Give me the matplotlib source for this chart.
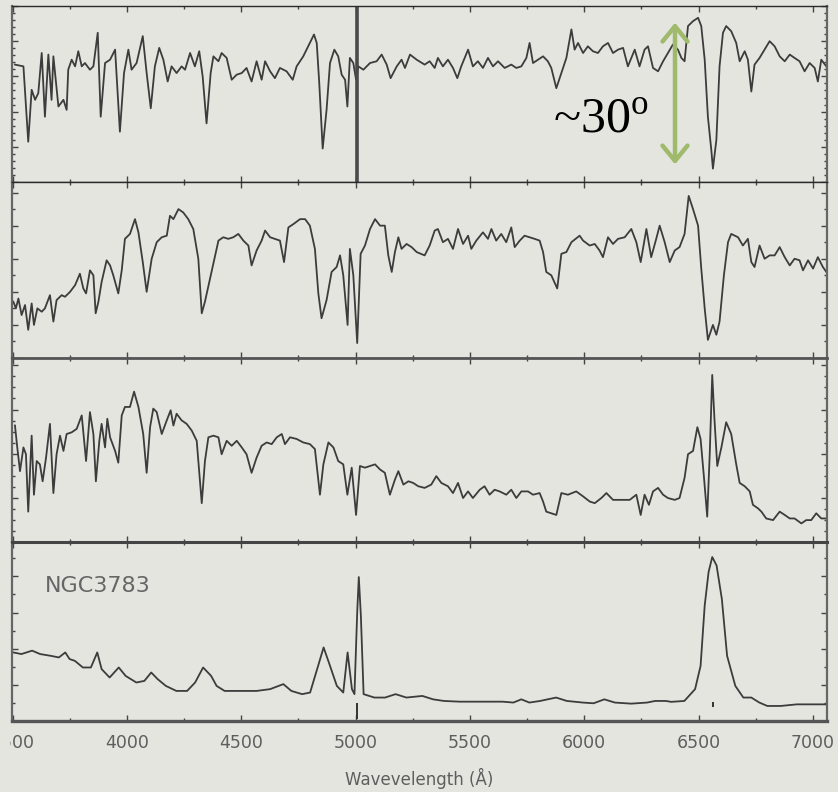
import matplotlib
matplotlib.use("Agg")
import matplotlib.pyplot as plt
from matplotlib.patches import Rectangle
from matplotlib.ticker import MultipleLocator

# spectra; flux in percent of the panel height
wl1 = [3510, 3547, 3568, 3583, 3598, 3612, 3627, 3641, 3656, 3670, 3678, 3700, 3722, 3736, 3743,
       3758, 3773, 3787, 3802, 3816, 3838, 3853, 3872, 3885, 3904, 3926, 3948, 3969, 3987, 4006,
       4020, 4042, 4069, 4086, 4104, 4122, 4141, 4159, 4178, 4195, 4217, 4239, 4254, 4276, 4297,
       4316, 4331, 4348, 4366, 4378, 4400, 4414, 4436, 4458, 4480, 4502, 4523, 4545, 4567, 4589,
       4604, 4626, 4647, 4669, 4698, 4725, 4742, 4771, 4800, 4818, 4830, 4841, 4856, 4873, 4888,
       4907, 4924, 4939, 4954, 4964, 4975, 4990, 5002, 5012, 5034, 5063, 5092, 5114, 5136, 5153,
       5180, 5201, 5216, 5238, 5267, 5302, 5324, 5346, 5360, 5382, 5404, 5426, 5445, 5462, 5492,
       5513, 5535, 5557, 5579, 5601, 5623, 5652, 5681, 5703, 5725, 5747, 5761, 5776, 5798, 5820,
       5841, 5856, 5878, 5900, 5922, 5944, 5958, 5973, 5995, 6016, 6038, 6060, 6082, 6104, 6126,
       6148, 6170, 6191, 6206, 6221, 6242, 6264, 6279, 6301, 6323, 6345, 6366, 6388, 6410, 6425,
       6439, 6454, 6476, 6498, 6512, 6527, 6541, 6556, 6563, 6578, 6592, 6607, 6621, 6643, 6665,
       6680, 6702, 6716, 6731, 6745, 6767, 6789, 6811, 6833, 6855, 6877, 6899, 6920, 6942, 6964,
       6986, 7008, 7022, 7037, 7059]
flux1 = [66.7, 65.7, 22.9, 52.4, 46.7, 50.5, 73.3, 37.1, 72.4, 46.7, 71.4, 42.9, 46.7, 41.0, 63.8,
         69.5, 65.7, 74.3, 65.7, 67.6, 63.8, 65.7, 84.8, 37.1, 67.6, 69.5, 75.2, 28.6, 61.9, 75.2,
         63.8, 67.6, 82.9, 61.9, 41.9, 65.7, 76.2, 69.5, 57.1, 65.7, 61.9, 65.7, 63.8, 73.3, 65.7,
         74.3, 60.0, 33.3, 61.9, 71.4, 68.6, 73.3, 70.5, 58.1, 61.0, 61.9, 64.8, 57.1, 68.6, 58.1,
         68.6, 62.9, 59.0, 64.8, 62.9, 58.1, 65.7, 71.4, 79.0, 83.8, 79.0, 56.2, 19.0, 41.0, 67.6,
         75.2, 71.4, 61.0, 58.1, 42.9, 70.5, 67.6, 58.1, 65.7, 63.8, 67.6, 68.6, 72.4, 66.7, 59.0,
         65.7, 69.5, 64.8, 72.4, 69.5, 66.7, 68.6, 64.8, 70.5, 65.7, 69.5, 64.8, 59.0, 65.7, 75.2,
         65.7, 68.6, 64.8, 70.5, 65.7, 68.6, 64.8, 66.7, 64.8, 65.7, 70.5, 79.0, 67.6, 69.5, 71.4,
         68.6, 64.8, 53.3, 61.9, 70.5, 86.7, 75.2, 79.0, 73.3, 77.1, 74.3, 73.3, 77.1, 79.0, 73.3,
         75.2, 76.2, 65.7, 70.5, 75.2, 65.7, 75.2, 77.1, 64.8, 62.9, 68.6, 73.3, 78.1, 75.2, 70.5,
         68.6, 88.6, 91.4, 93.3, 88.6, 69.5, 37.1, 18.1, 7.6, 23.8, 65.7, 84.8, 88.6, 85.7, 79.0,
         68.6, 74.3, 69.5, 51.4, 66.7, 70.5, 75.2, 80.0, 77.1, 71.4, 68.6, 72.4, 70.5, 68.6, 62.9,
         67.6, 64.8, 57.1, 69.5, 65.7]

wl2 = [3503, 3514, 3525, 3539, 3554, 3568, 3583, 3593, 3608, 3627, 3641, 3663, 3678, 3692, 3714,
       3729, 3751, 3773, 3794, 3809, 3821, 3838, 3853, 3863, 3875, 3889, 3911, 3926, 3940, 3962,
       3977, 3991, 4013, 4035, 4050, 4069, 4086, 4108, 4130, 4152, 4174, 4188, 4203, 4225, 4246,
       4268, 4290, 4312, 4327, 4341, 4360, 4378, 4400, 4421, 4443, 4465, 4487, 4509, 4531, 4545,
       4567, 4589, 4604, 4626, 4647, 4669, 4687, 4706, 4728, 4757, 4779, 4800, 4822, 4837, 4851,
       4873, 4895, 4917, 4932, 4946, 4965, 4975, 4990, 5007, 5022, 5041, 5063, 5085, 5107, 5128,
       5143, 5158, 5172, 5187, 5201, 5223, 5245, 5267, 5302, 5324, 5346, 5360, 5382, 5404, 5426,
       5448, 5470, 5492, 5506, 5528, 5557, 5579, 5594, 5615, 5637, 5659, 5681, 5696, 5718, 5739,
       5761, 5783, 5805, 5820, 5834, 5856, 5882, 5900, 5922, 5944, 5980, 5995, 6024, 6046, 6067,
       6082, 6104, 6126, 6148, 6177, 6206, 6228, 6247, 6272, 6293, 6315, 6330, 6352, 6374, 6396,
       6417, 6439, 6457, 6476, 6498, 6512, 6527, 6541, 6563, 6578, 6592, 6611, 6629, 6643, 6673,
       6694, 6716, 6731, 6745, 6767, 6789, 6811, 6833, 6855, 6877, 6899, 6920, 6942, 6957, 6979,
       7001, 7022, 7044, 7059]
flux2 = [32.0, 28.2, 33.8, 24.4, 30.1, 16.0, 31.0, 18.8, 28.2, 26.3, 28.2, 35.7, 20.7, 32.9, 35.7,
         34.8, 37.6, 41.4, 47.9, 39.5, 36.7, 49.8, 47.0, 25.4, 32.0, 43.2, 55.5, 52.6, 47.0, 36.7,
         49.8, 67.7, 70.5, 78.9, 71.4, 54.5, 37.6, 56.4, 65.8, 68.6, 69.5, 80.8, 78.9, 84.6, 82.7,
         78.9, 73.3, 56.4, 25.4, 32.0, 43.2, 53.6, 66.7, 68.6, 67.7, 68.6, 70.5, 66.7, 63.9, 52.6,
         61.1, 66.7, 72.4, 68.6, 67.7, 66.7, 54.5, 74.2, 76.1, 78.9, 78.9, 75.2, 62.0, 36.7, 22.6,
         32.9, 48.9, 51.7, 58.3, 47.0, 18.8, 62.0, 47.0, 8.5, 59.2, 63.9, 73.3, 78.9, 75.2, 75.2,
         58.3, 48.9, 60.2, 68.6, 62.0, 64.8, 63.0, 60.2, 58.3, 63.9, 72.4, 73.3, 65.8, 67.7, 62.0,
         73.3, 64.8, 69.5, 62.0, 66.7, 71.4, 67.7, 73.3, 66.7, 70.5, 65.8, 74.2, 63.0, 66.7, 69.5,
         68.6, 67.7, 66.7, 60.2, 48.9, 47.0, 39.5, 59.2, 60.2, 65.8, 69.5, 66.7, 63.9, 64.8, 61.1,
         57.3, 68.6, 64.8, 67.7, 68.6, 73.3, 65.8, 54.5, 73.3, 57.3, 67.7, 75.2, 65.8, 54.5, 61.1,
         63.0, 70.5, 92.1, 84.6, 75.2, 50.8, 28.2, 10.3, 18.8, 13.2, 20.7, 47.0, 65.8, 70.5, 68.6,
         63.9, 67.7, 54.5, 51.7, 63.9, 56.4, 58.3, 58.3, 63.0, 57.3, 52.6, 56.4, 55.5, 49.8, 55.5,
         50.8, 57.3, 51.7, 48.9]

wl3 = [3510, 3520, 3532, 3547, 3558, 3568, 3583, 3593, 3605, 3619, 3631, 3646, 3663, 3678, 3692,
       3707, 3722, 3736, 3758, 3780, 3802, 3821, 3838, 3853, 3864, 3879, 3889, 3904, 3914, 3926,
       3948, 3962, 3977, 3991, 4013, 4031, 4050, 4071, 4086, 4101, 4115, 4130, 4152, 4174, 4191,
       4203, 4217, 4239, 4261, 4283, 4305, 4327, 4341, 4356, 4378, 4400, 4414, 4436, 4458, 4480,
       4502, 4523, 4545, 4567, 4589, 4611, 4633, 4655, 4677, 4691, 4713, 4742, 4771, 4800, 4822,
       4844, 4859, 4881, 4903, 4924, 4946, 4964, 4983, 5002, 5019, 5041, 5063, 5085, 5107, 5128,
       5150, 5172, 5187, 5209, 5231, 5252, 5274, 5302, 5331, 5353, 5375, 5404, 5426, 5448, 5470,
       5492, 5513, 5543, 5564, 5586, 5608, 5630, 5659, 5681, 5703, 5725, 5754, 5776, 5805, 5820,
       5834, 5856, 5878, 5900, 5929, 5965, 5995, 6024, 6046, 6075, 6097, 6126, 6162, 6199, 6228,
       6247, 6264, 6283, 6301, 6323, 6345, 6366, 6396, 6417, 6439, 6454, 6476, 6495, 6509, 6524,
       6538, 6549, 6560, 6570, 6582, 6600, 6621, 6643, 6665, 6680, 6702, 6724, 6738, 6760, 6775,
       6796, 6826, 6855, 6877, 6899, 6920, 6950, 6971, 6993, 7015, 7037, 7059]
flux3 = [63.3, 51.4, 38.5, 51.4, 47.7, 16.5, 57.8, 25.7, 44.0, 42.2, 33.0, 45.9, 64.2, 26.6, 47.7,
         57.8, 49.5, 58.7, 59.6, 61.5, 68.8, 44.0, 70.6, 58.7, 33.0, 55.0, 64.2, 51.4, 67.0, 56.9,
         49.5, 43.1, 68.8, 73.4, 73.4, 81.7, 73.4, 58.7, 37.6, 62.4, 72.5, 70.6, 58.7, 66.1, 71.6,
         63.3, 69.7, 66.1, 64.2, 60.6, 55.0, 21.1, 44.0, 56.9, 57.8, 56.9, 47.7, 55.0, 52.3, 55.0,
         51.4, 47.7, 37.6, 45.9, 52.3, 54.1, 53.2, 56.9, 58.7, 53.2, 56.9, 56.0, 54.1, 53.2, 50.5,
         25.7, 42.2, 54.1, 51.4, 44.0, 42.2, 25.7, 40.4, 14.7, 41.3, 40.4, 41.3, 42.2, 39.4, 37.6,
         25.7, 33.9, 38.5, 31.2, 33.0, 32.1, 30.3, 29.4, 31.2, 35.8, 32.1, 30.3, 26.6, 32.1, 23.9,
         27.5, 23.9, 28.4, 30.3, 25.7, 28.4, 27.5, 25.7, 28.4, 23.9, 27.5, 27.5, 25.7, 26.6, 22.0,
         16.5, 15.6, 14.7, 26.6, 25.7, 27.5, 24.8, 22.0, 21.1, 23.9, 26.6, 22.9, 22.9, 22.9, 25.7,
         14.7, 25.7, 20.2, 27.5, 29.4, 25.7, 23.9, 22.9, 23.9, 34.9, 47.7, 49.5, 62.4, 56.0, 34.9,
         13.8, 47.7, 90.8, 66.1, 41.3, 51.4, 65.1, 58.7, 42.2, 32.1, 30.3, 27.5, 20.2, 18.3, 16.5,
         12.8, 11.9, 16.5, 14.7, 12.8, 12.8, 10.1, 11.9, 11.9, 15.6, 12.8, 12.8]

wl4 = [3503, 3538, 3585, 3620, 3667, 3702, 3730, 3749, 3772, 3807, 3842, 3870, 3889, 3924, 3964,
       3994, 4041, 4076, 4106, 4134, 4170, 4216, 4263, 4298, 4333, 4368, 4392, 4427, 4497, 4567,
       4626, 4684, 4719, 4766, 4801, 4836, 4860, 4883, 4918, 4946, 4965, 4984, 4995, 5007, 5014,
       5023, 5035, 5082, 5129, 5175, 5222, 5292, 5339, 5386, 5456, 5550, 5643, 5690, 5725, 5760,
       5807, 5877, 5924, 5994, 6041, 6088, 6134, 6205, 6275, 6310, 6357, 6380, 6438, 6485, 6509,
       6527, 6544, 6560, 6579, 6602, 6625, 6661, 6696, 6731, 6766, 6801, 6859, 6930, 7000, 7058]
flux4 = [38.3, 37.4, 39.3, 37.4, 36.4, 35.5, 38.3, 34.6, 33.6, 29.9, 29.9, 38.3, 29.0, 24.3, 29.9,
         25.2, 21.5, 22.4, 27.1, 23.4, 19.6, 16.8, 16.8, 21.5, 29.9, 25.2, 19.6, 16.8, 16.8, 16.8,
         17.8, 20.6, 16.8, 15.0, 15.9, 30.8, 41.1, 32.7, 19.6, 15.9, 38.3, 17.8, 15.0, 60.7, 80.4,
         58.9, 15.0, 13.1, 13.1, 15.0, 13.1, 14.0, 12.1, 11.2, 10.8, 10.8, 10.8, 10.3, 12.1, 10.3,
         11.2, 13.1, 11.2, 10.3, 9.9, 12.1, 10.3, 9.7, 10.3, 11.2, 11.2, 10.7, 11.2, 17.8, 30.8,
         64.5, 83.2, 91.6, 86.9, 68.2, 36.4, 19.6, 13.1, 13.1, 10.3, 8.4, 8.4, 9.3, 9.3, 9.3]

oiii_residual = 5007          # sky/[OIII] residual bar in the top spectrum
line_marks = [5007, 6563]     # small marks under NGC3783
xticks_major = [3500, 4000, 4500, 5000, 5500, 6000, 6500, 7000]

bg = "#e4e5df"
ink = "#3c3c3c"
W, H = 838, 792

plt.rcParams["mathtext.fontset"] = "custom"
plt.rcParams["mathtext.rm"] = "Liberation Serif"

fig = plt.figure(figsize=(W / 100, H / 100), dpi=100, facecolor=bg)

# panel frames in pixels (top, bottom)
frames = [(6, 182), (182, 358), (358, 542), (542, 721)]
minor_steps = [4, 9.4, 6, 10.1]
major_steps = [20, 18.8, 24, 20.2]
spectra = [(wl1, flux1), (wl2, flux2), (wl3, flux3), (wl4, flux4)]
left, right = 12, 827

axes = []
for i, (top, bot) in enumerate(frames):
    ax = fig.add_axes([left / W, (H - bot) / H, (right - left) / W, (bot - top) / H])
    ax.set_facecolor(bg)
    wl, fl = spectra[i]
    ax.plot(wl, fl, color=ink, lw=1.3, solid_joinstyle="round")
    ax.set_xlim(3497, 7062)
    ax.set_ylim(0, 100)
    ax.set_xticks(xticks_major)
    ax.xaxis.set_minor_locator(MultipleLocator(250))
    ax.yaxis.set_major_locator(MultipleLocator(major_steps[i]))
    ax.yaxis.set_minor_locator(MultipleLocator(minor_steps[i]))
    ax.tick_params(which="both", direction="in", top=True, right=True, colors="#444",
                   labelleft=False, labelbottom=(i == 3), width=1.0)
    ax.tick_params(which="major", length=4.5)
    ax.tick_params(which="minor", length=2.5)
    ax.tick_params(axis="x", labelsize=12.5, labelcolor="#5e5e5e", pad=9)
    for s in ax.spines.values():
        s.set_color("#2a2a2a")
        s.set_linewidth(1.0)
    ax.spines["left"].set_color("#666")
    ax.spines["left"].set_linewidth(1.6)
    ax.spines["right"].set_color("#666")
    ax.spines["right"].set_linewidth(1.6)
    axes.append(ax)

ax1, ax2, ax3, ax4 = axes
ax1.axvline(oiii_residual, color="#4a4a4a", lw=2.6)
ax3.spines["top"].set_linewidth(2.0)
ax3.spines["top"].set_color("#555")
ax4.spines["top"].set_linewidth(2.2)
ax4.spines["top"].set_color("#444")
ax4.spines["bottom"].set_linewidth(2.4)
ax4.spines["bottom"].set_color("#555")
ax4.vlines(line_marks[0], 1, 10, color="#333", lw=1.4)
ax4.vlines(line_marks[1], 8, 10.5, color="#333", lw=1.4)

ax4.text(0.040, 0.754, "NGC3783", transform=ax4.transAxes, fontsize=16,
         color="#666", va="center", ha="left")
ax4.set_xlabel("Wavevelength (Å)", fontsize=12, color="#5e5e5e", labelpad=12)

# green double arrow and the angle note
ax1.annotate("", xy=(0.8135, 0.905), xytext=(0.8135, 0.10), xycoords="axes fraction",
             arrowprops=dict(arrowstyle="<->,head_length=0.55,head_width=0.45", lw=3.2,
                             color="#9fb96d", mutation_scale=20, shrinkA=0, shrinkB=0))
ax1.text(0.664, 0.278, r"~30$^{\mathrm{o}}$", transform=ax1.transAxes, fontsize=36,
         family="Liberation Serif", va="baseline", ha="left", color="black")

# the scan is cropped just left of the axes
fig.add_artist(Rectangle((0, 0), 10 / W, 1, transform=fig.transFigure,
                         facecolor=bg, edgecolor="none", zorder=10))

fig.savefig("out.png", dpi=100, facecolor=bg)
